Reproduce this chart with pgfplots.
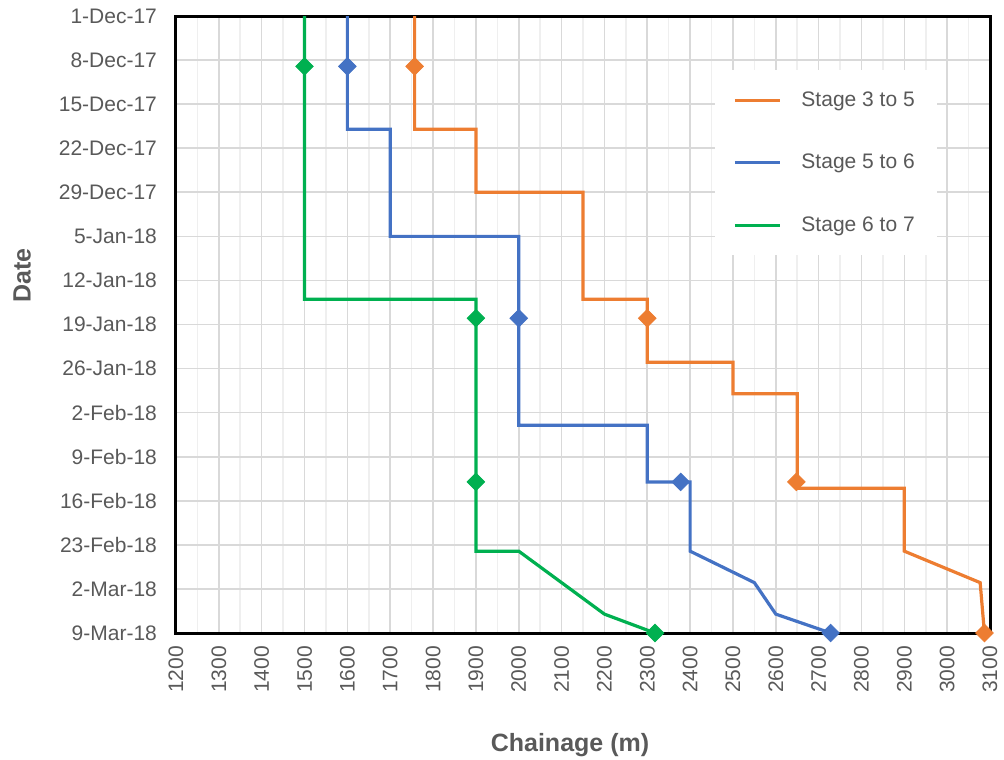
\documentclass[border=0pt]{standalone}
\usepackage{fontspec}
\setmainfont{Liberation Sans}
\usepackage{pgfplots}
\pgfplotsset{compat=1.18}
\definecolor{cOr}{HTML}{ED7D31}
\definecolor{cBl}{HTML}{4472C4}
\definecolor{cGr}{HTML}{00B050}
\definecolor{txt}{HTML}{595959}
\definecolor{gmaj}{HTML}{D9D9D9}
\definecolor{gmin}{HTML}{EFEFEF}
\begin{document}
\begin{tikzpicture}
\begin{axis}[name=ax, scale only axis, width=407pt, height=308.5pt,
  xmin=1200, xmax=3100, ymin=0, ymax=98, y dir=reverse,
  xtick distance=100, minor x tick num=1,
  ytick={0,7,...,98},
  yticklabels={1-Dec-17,8-Dec-17,15-Dec-17,22-Dec-17,29-Dec-17,5-Jan-18,12-Jan-18,19-Jan-18,26-Jan-18,2-Feb-18,9-Feb-18,16-Feb-18,23-Feb-18,2-Mar-18,9-Mar-18},
  grid=both,
  major grid style={gmaj, line width=0.8pt},
  minor grid style={gmin, line width=0.8pt},
  major tick length=0pt, minor tick length=0pt,
  axis line style={black, line width=1.5pt},
  ticklabel style={font=\fontsize{10.5}{12}\selectfont, text=txt},
  xticklabel style={rotate=90, anchor=east},
  xticklabel shift=3pt, yticklabel shift=6pt,
  /pgf/number format/assume math mode=true,
  /pgf/number format/1000 sep={},
  xlabel={Chainage (m)}, ylabel={Date},
  label style={font=\bfseries\fontsize{12.5}{14}\selectfont, text=txt},
  xlabel style={at={(axis description cs:0.484,-0.1815)}, anchor=center},
  ylabel style={at={(axis description cs:-0.189,0.579)}, anchor=center},
  clip=false,
  legend cell align=left,
  legend style={at={(axis description cs:0.662,0.9125)}, anchor=north west,
    draw=none, fill=white, font=\fontsize{10.5}{12}\selectfont, text=txt,
    row sep=18.5pt, inner xsep=9pt, inner ysep=8.5pt,
    /tikz/every odd column/.append style={column sep=8pt}},
  legend image code/.code={\draw[#1] (0pt,0pt) -- (22.5pt,0pt);},
]
\addplot[cOr, line width=1.6pt] coordinates {(1757,0)(1757,8)(1757,18)(1900,18)(1900,28)(2150,28)(2150,45)(2300,45)(2300,48)(2300,55)(2500,55)(2500,60)(2650,60)(2650,74)(2650,75)(2900,75)(2900,85)(3077,90)(3087,98)};
\addlegendentry{Stage 3 to 5}
\addplot[cBl, line width=1.6pt] coordinates {(1600,0)(1600,8)(1600,18)(1700,18)(1700,35)(2000,35)(2000,48)(2000,65)(2300,65)(2300,74)(2378,74)(2400,74)(2400,85)(2550,90)(2600,95)(2728,98)};
\addlegendentry{Stage 5 to 6}
\addplot[cGr, line width=1.6pt] coordinates {(1500,0)(1500,8)(1500,45)(1900,45)(1900,48)(1900,74)(1900,85)(2000,85)(2200,95)(2318,98)};
\addlegendentry{Stage 6 to 7}
\addplot[only marks, forget plot, mark=square*, mark size=3.1pt, mark options={rotate=45, fill=cOr, draw=cOr}] coordinates {(1757,8)(2300,48)(2648,74)(3087,98)};
\addplot[only marks, forget plot, mark=square*, mark size=3.1pt, mark options={rotate=45, fill=cBl, draw=cBl}] coordinates {(1600,8)(2000,48)(2378,74)(2728,98)};
\addplot[only marks, forget plot, mark=square*, mark size=3.1pt, mark options={rotate=45, fill=cGr, draw=cGr}] coordinates {(1500,8)(1900,48)(1900,74)(2318,98)};
\end{axis}
\pgfresetboundingbox
\path[use as bounding box] ([shift={(-88pt,-63pt)}]ax.south west) rectangle ([shift={(7pt,8pt)}]ax.north east);
\end{tikzpicture}
\end{document}
